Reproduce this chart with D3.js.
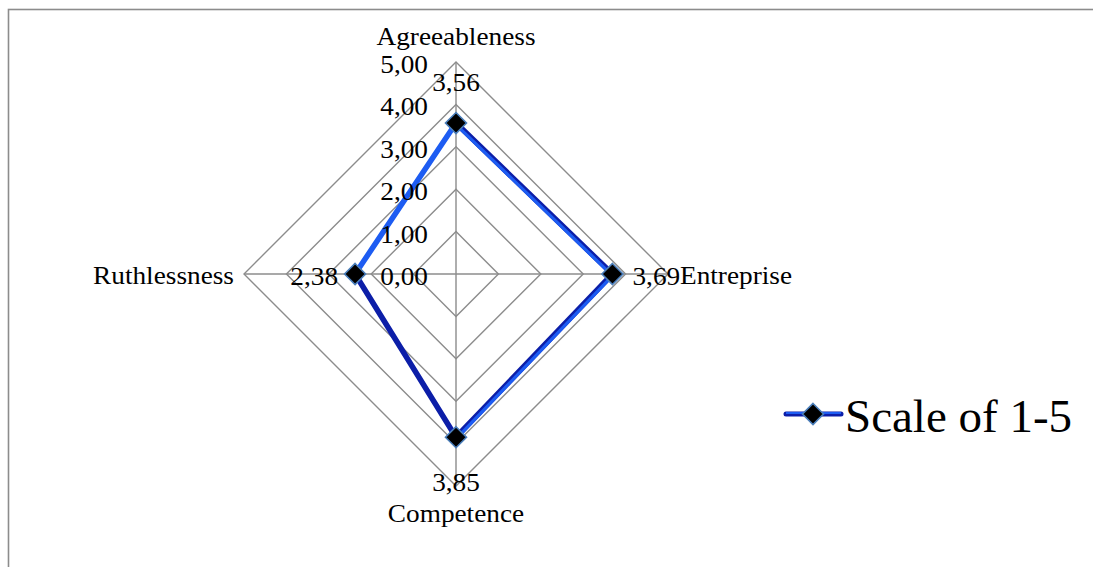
<!DOCTYPE html>
<html><head><meta charset="utf-8">
<script src="https://cdn.jsdelivr.net/npm/d3@7"></script>
<style>body{margin:0;background:#fff}svg{display:block}text{font-family:"Liberation Serif","Times New Roman",serif;fill:#000}</style>
</head><body><div id="chart"></div>
<script>
const categories = ["Agreeableness","Entreprise","Competence","Ruthlessness"];
const values = [3.56, 3.69, 3.85, 2.38];
const valueLabels = ["3,56","3,69","3,85","2,38"];
const tickValues = [0,1,2,3,4,5];
const tickLabels = ["0,00","1,00","2,00","3,00","4,00","5,00"];
const seriesName = "Scale of 1-5";

const W=1093,H=567, cx=456, cy=274, R=212;
const svg=d3.select("#chart").append("svg").attr("width",W).attr("height",H);
svg.append("rect").attr("x",8.5).attr("y",9.5).attr("width",1200).attr("height",700)
  .attr("fill","none").attr("stroke","#8c8c8c").attr("stroke-width",1.6);

const r=d3.scaleLinear().domain([0,5]).range([0,R]);
const ang=d3.scaleBand().domain(categories).range([0,2*Math.PI]).paddingInner(0).paddingOuter(0);
const angle=c=>ang(c);
const pt=(c,v)=>[cx+r(v)*Math.sin(angle(c)), cy-r(v)*Math.cos(angle(c))];

const g=svg.append("g");
tickValues.filter(t=>t>0).forEach(t=>{
  g.append("path").attr("d",d3.line()(categories.map(c=>pt(c,t)))+"Z")
   .attr("fill","none").attr("stroke","#8c8c8c").attr("stroke-width",1.4);
});
categories.forEach(c=>{
  const p=pt(c,5);
  g.append("line").attr("x1",cx).attr("y1",cy).attr("x2",p[0]).attr("y2",p[1])
   .attr("stroke","#8c8c8c").attr("stroke-width",1.4);
});
const sx=1.07;
function stext(x,y,txt,anchor,size,scale){
  return svg.append("text").attr("transform",`translate(${x},${y}) scale(${scale||sx},1)`)
   .attr("text-anchor",anchor).attr("font-size",size||25.5).text(txt);
}
tickValues.forEach((t,i)=>{
  stext(428, cy-r(t)+11, tickLabels[i], "end");
});

const dark="#0c1ea8", bright="#1d5cf2";
const segStyle=[{base:dark,strip:bright,side:-1},{base:dark,strip:bright,side:1},{base:dark,strip:null,side:0},{base:bright,strip:null,side:0}];
const pts=categories.map((c,i)=>pt(c,values[i]));
pts.forEach((p,i)=>{
  const q=pts[(i+1)%pts.length];
  const st=segStyle[i];
  g.append("line").attr("x1",p[0]).attr("y1",p[1]).attr("x2",q[0]).attr("y2",q[1])
   .attr("stroke",st.base).attr("stroke-width",5.5).attr("stroke-linecap","round");
  if(st.strip){
    const dx=q[0]-p[0], dy=q[1]-p[1], L=Math.hypot(dx,dy);
    let nx=dy/L, ny=-dx/L;
    const mx=(p[0]+q[0])/2-cx, my=(p[1]+q[1])/2-cy;
    if(nx*mx+ny*my<0){nx=-nx;ny=-ny;}
    const o=1.2*st.side;
    g.append("line").attr("x1",p[0]+nx*o).attr("y1",p[1]+ny*o).attr("x2",q[0]+nx*o).attr("y2",q[1]+ny*o)
     .attr("stroke",st.strip).attr("stroke-width",3.2);
  }
});
const diamond=(x,y,s)=>`M${x},${y-s}L${x+s},${y}L${x},${y+s}L${x-s},${y}Z`;
pts.forEach(p=>{
  g.append("path").attr("d",diamond(p[0],p[1],10.5)).attr("fill","#000")
   .attr("stroke","#4a7ebb").attr("stroke-width",1.6);
});
const vPos=[[0,-32,"middle"],[20,11,"start"],[0,54,"middle"],[-17,11,"end"]];
pts.forEach((p,i)=>{
  stext(p[0]+vPos[i][0], p[1]+vPos[i][1], valueLabels[i], vPos[i][2]);
});
const cPos=[[456,45,"middle"],[680,284,"start"],[456,522,"middle"],[234,284,"end"]];
categories.forEach((c,i)=>stext(cPos[i][0],cPos[i][1],c,cPos[i][2]));

const lg=svg.append("g");
lg.append("line").attr("x1",786).attr("y1",414).attr("x2",841).attr("y2",414)
  .attr("stroke",dark).attr("stroke-width",5).attr("stroke-linecap","round");
lg.append("line").attr("x1",786).attr("y1",413).attr("x2",841).attr("y2",413)
  .attr("stroke",bright).attr("stroke-width",2);
lg.append("path").attr("d",diamond(813,414,10.5)).attr("fill","#000").attr("stroke","#4a7ebb").attr("stroke-width",1.6);
lg.append("text").attr("x",845).attr("y",432).attr("font-size",47).text(seriesName);
</script></body></html>
